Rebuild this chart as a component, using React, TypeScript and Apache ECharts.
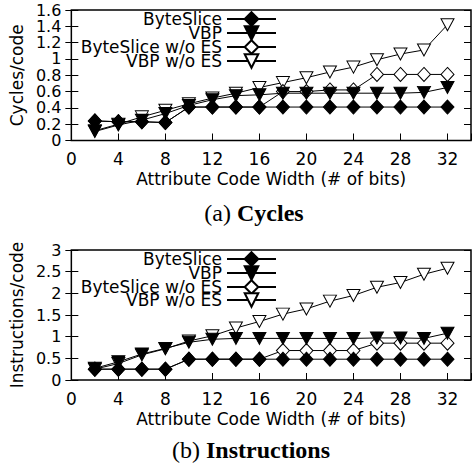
import React, { useEffect, useRef } from 'react';
import * as echarts from 'echarts';

const bits = [2, 4, 6, 8, 10, 12, 14, 16, 18, 20, 22, 24, 26, 28, 30, 32];
const seriesNames = ['ByteSlice', 'VBP', 'ByteSlice w/o ES', 'VBP w/o ES'];

// (a) Cycles per code
const cycByteSlice = [0.24, 0.23, 0.23, 0.22, 0.41, 0.41, 0.41, 0.41, 0.41, 0.41, 0.41, 0.41, 0.41, 0.41, 0.41, 0.41];
const cycVBP = [0.11, 0.19, 0.25, 0.33, 0.43, 0.5, 0.55, 0.56, 0.58, 0.58, 0.58, 0.58, 0.58, 0.58, 0.59, 0.65];
const cycByteSliceNoES = [0.24, 0.23, 0.23, 0.22, 0.41, 0.41, 0.41, 0.41, 0.6, 0.6, 0.62, 0.62, 0.81, 0.81, 0.81, 0.81];
const cycVBPNoES = [0.12, 0.2, 0.29, 0.37, 0.45, 0.52, 0.58, 0.65, 0.71, 0.77, 0.84, 0.9, 0.99, 1.06, 1.11, 1.42];

// (b) Instructions per code
const insByteSlice = [0.25, 0.25, 0.25, 0.25, 0.48, 0.48, 0.48, 0.48, 0.48, 0.48, 0.48, 0.48, 0.48, 0.48, 0.48, 0.48];
const insVBP = [0.27, 0.42, 0.6, 0.73, 0.87, 0.94, 0.96, 0.96, 0.96, 0.96, 0.96, 0.96, 0.97, 0.97, 0.96, 1.08];
const insByteSliceNoES = [0.25, 0.25, 0.25, 0.25, 0.48, 0.48, 0.48, 0.48, 0.68, 0.68, 0.68, 0.68, 0.85, 0.85, 0.85, 0.85];
const insVBPNoES = [0.25, 0.38, 0.58, 0.72, 0.9, 1.02, 1.2, 1.35, 1.52, 1.64, 1.82, 1.95, 2.14, 2.25, 2.44, 2.58];

const xMax = 34;
const xInterval = 4;
const cycMax = 1.6;
const cycInterval = 0.2;
const insMax = 3;
const insInterval = 0.5;

const FONT = 'DejaVu Sans';
const SERIF = 'Liberation Serif';
const FS = 17;
const YFS = 16;

const pairs = (vals: number[]) => bits.map((b, i) => [b, vals[i]]);

const styleFor = (idx: number) => {
  const filled = idx < 2;
  const isTri = idx % 2 === 1;
  return {
    symbol: isTri ? 'triangle' : 'diamond',
    symbolRotate: isTri ? 180 : 0,
    symbolSize: isTri ? [13, 12] : [13, 14],
    itemStyle: filled
      ? { color: '#000', borderColor: '#000', borderWidth: 1 }
      : { color: '#fff', borderColor: '#000', borderWidth: 1 },
    lineStyle: { color: '#000', width: 1 },
    z: filled ? 4 : 3,
  };
};

export default function App() {
  const ref = useRef<HTMLDivElement>(null);
  useEffect(() => {
    if (!ref.current) return;
    const chart = echarts.init(ref.current, undefined, { renderer: 'svg' });

    const grids = [
      { left: 70, top: 10, width: 406, height: 130.5 },
      { left: 70, top: 250, width: 406, height: 130 },
    ].map((g) => ({ ...g, show: true, borderColor: '#000', borderWidth: 1.5, backgroundColor: 'transparent' }));

    const xAxes = [0, 1].map((gi) => ({
      type: 'value',
      gridIndex: gi,
      min: 0,
      max: xMax,
      interval: xInterval,
      axisLine: { show: false },
      axisTick: { show: true, inside: true, length: 7, lineStyle: { color: '#000', width: 1 } },
      splitLine: { show: false },
      axisLabel: {
        margin: 10,
        color: '#000',
        fontFamily: FONT,
        fontSize: FS,
        showMinLabel: true,
        formatter: (v: number) => (v % xInterval === 0 && v <= 32 ? String(v) : ''),
      },
      name: 'Attribute Code Width (# of bits)',
      nameLocation: 'middle',
      nameGap: 30,
      nameTextStyle: { color: '#000', fontFamily: FONT, fontSize: FS },
    }));

    const mkY = (gi: number, max: number, interval: number, name: string) => [
      {
        type: 'value',
        gridIndex: gi,
        position: 'left',
        min: 0,
        max,
        interval,
        axisLine: { show: false },
        axisTick: { show: true, inside: true, length: 7, lineStyle: { color: '#000', width: 1 } },
        splitLine: { show: false },
        axisLabel: {
          margin: 10,
          color: '#000',
          fontFamily: FONT,
          fontSize: YFS,
          showMinLabel: true,
          showMaxLabel: true,
        },
        name,
        nameLocation: 'middle',
        nameGap: 42,
        nameTextStyle: { color: '#000', fontFamily: FONT, fontSize: FS },
      },
      {
        type: 'value',
        gridIndex: gi,
        position: 'left',
        min: 0,
        max,
        interval,
        axisLine: { show: false },
        axisTick: { show: true, inside: false, length: 6, lineStyle: { color: '#000', width: 1 } },
        splitLine: { show: false },
        axisLabel: { show: false },
      },
      {
        type: 'value',
        gridIndex: gi,
        position: 'right',
        min: 0,
        max,
        interval,
        axisLine: { show: false },
        axisTick: { show: true, inside: true, length: 7, lineStyle: { color: '#000', width: 1 } },
        splitLine: { show: false },
        axisLabel: { show: false },
      },
    ];

    const yAxes = [...mkY(0, cycMax, cycInterval, 'Cycles/code'), ...mkY(1, insMax, insInterval, 'Instructions/code')];

    const cyc = [cycByteSlice, cycVBP, cycByteSliceNoES, cycVBPNoES];
    const ins = [insByteSlice, insVBP, insByteSliceNoES, insVBPNoES];

    const order = [3, 2, 1, 0];
    const series: any[] = [];
    order.forEach((i) => {
      series.push({ type: 'line', name: seriesNames[i], xAxisIndex: 0, yAxisIndex: 0, data: pairs(cyc[i]), ...styleFor(i) });
    });
    order.forEach((i) => {
      series.push({ type: 'line', name: seriesNames[i], xAxisIndex: 1, yAxisIndex: 3, data: pairs(ins[i]), ...styleFor(i) });
    });

    const legendTops = [
      [10.5, 24.5, 38.5, 52.5],
      [250.5, 264.5, 278.5, 291.5],
    ];
    const legends: any[] = [];
    legendTops.forEach((tops) => {
      tops.forEach((t, i) => {
        legends.push({
          data: [seriesNames[i]],
          right: 197,
          top: t,
          padding: 0,
          align: 'right',
          itemWidth: 49,
          itemHeight: 17,
          itemGap: 0,
          selectedMode: false,
          textStyle: { color: '#000', fontFamily: FONT, fontSize: FS, lineHeight: 16 },
        });
      });
    });

    const caption = (label: string, bold: string, cy: number, cx: number) => ({
      type: 'text',
      x: cx,
      y: cy,
      style: {
        text: `{r|${label} }{b|${bold}}`,
        align: 'center',
        verticalAlign: 'middle',
        rich: {
          r: { fontFamily: SERIF, fontSize: 24, fill: '#000' },
          b: { fontFamily: SERIF, fontSize: 24, fontWeight: 'bold', fill: '#000' },
        },
      },
    });

    chart.setOption({
      animation: false,
      backgroundColor: '#fff',
      grid: grids,
      xAxis: xAxes,
      yAxis: yAxes,
      legend: legends,
      series,
      graphic: [caption('(a)', 'Cycles', 213, 254), caption('(b)', 'Instructions', 450, 251)],
    });
    return () => chart.dispose();
  }, []);
  return <div ref={ref} style={{ position: 'fixed', left: 0, top: 0, width: 474, height: 469 }} />;
}
